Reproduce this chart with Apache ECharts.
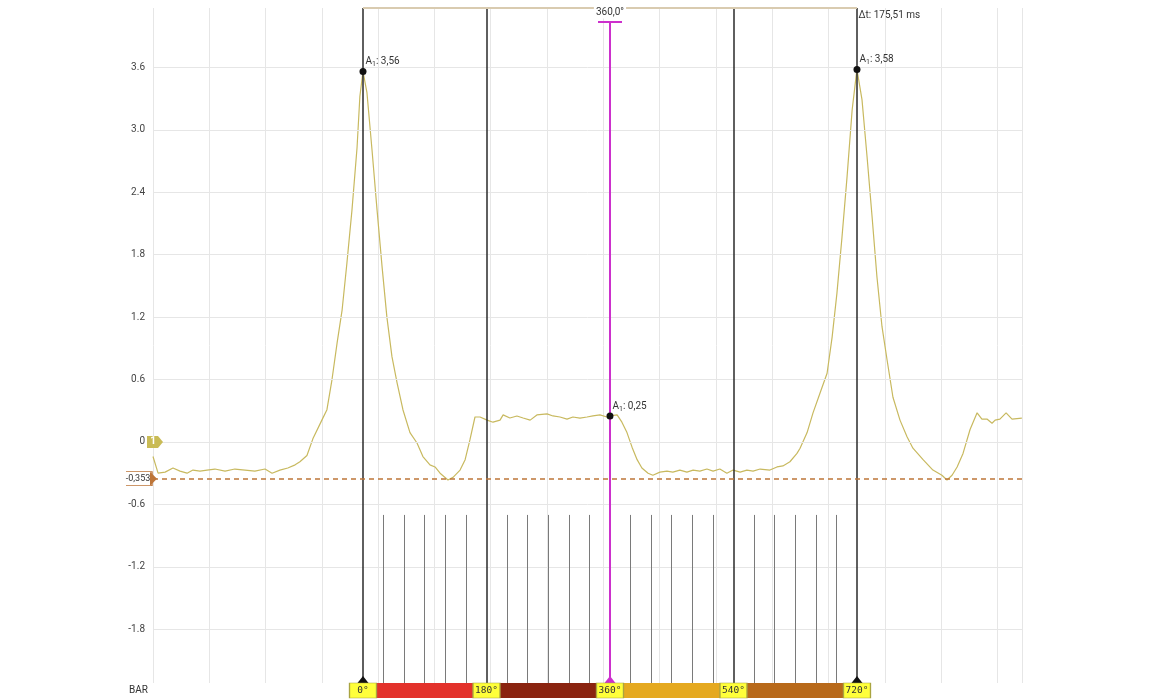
<!DOCTYPE html>
<html><head><meta charset="utf-8">
<script src="https://cdn.jsdelivr.net/npm/echarts@6/dist/echarts.min.js"></script>
<style>html,body{margin:0;padding:0;background:#fff}#c{width:1156px;height:700px}</style>
</head><body><div id="c"></div>
<script>
// ---- data (time in ms, signal value) ----
const sampleTimes = [0.0,1.8,4.3,7.1,9.6,12.1,14.2,16.7,19.2,22.0,25.6,29.1,32.7,36.2,39.8,42.3,45.1,47.9,50.5,52.2,54.7,56.8,60.0,61.8,63.6,65.4,67.2,68.9,70.7,72.5,73.5,74.6,76.0,77.8,79.6,81.4,83.1,84.9,86.7,88.8,91.3,93.8,95.9,98.4,100.2,102.0,104.8,106.6,109.1,110.9,112.6,114.4,116.2,118.7,120.8,123.3,124.4,126.8,129.3,131.5,134.0,136.4,140.0,142.1,144.6,147.1,149.2,151.7,154.2,156.3,158.8,161.3,162.4,164.9,166.6,168.4,170.2,172.0,173.7,175.9,177.6,180.1,182.6,184.7,187.2,189.7,191.9,194.3,196.8,199.0,201.4,203.9,206.1,208.6,211.0,213.2,215.7,219.2,221.7,223.8,226.3,228.8,229.9,232.4,234.5,237.0,239.5,241.3,243.0,244.8,246.6,248.4,250.1,251.9,253.7,255.5,257.2,259.0,260.8,262.9,265.4,267.9,270.0,273.6,277.1,280.3,282.1,283.9,285.7,287.8,290.3,292.8,294.5,296.3,298.1,299.2,300.9,303.1,305.2,308.7];
const sampleValues = [-0.14,-0.30,-0.29,-0.25,-0.28,-0.30,-0.27,-0.28,-0.27,-0.26,-0.28,-0.26,-0.27,-0.28,-0.26,-0.30,-0.27,-0.25,-0.22,-0.19,-0.13,0.03,0.21,0.31,0.60,0.95,1.27,1.72,2.23,2.83,3.32,3.56,3.36,2.81,2.23,1.68,1.20,0.82,0.57,0.31,0.09,-0.01,-0.14,-0.22,-0.24,-0.30,-0.365,-0.34,-0.27,-0.17,0.02,0.24,0.24,0.21,0.19,0.21,0.26,0.23,0.25,0.23,0.21,0.26,0.27,0.25,0.24,0.22,0.24,0.23,0.24,0.25,0.26,0.24,0.25,0.26,0.19,0.09,-0.05,-0.17,-0.25,-0.30,-0.32,-0.29,-0.28,-0.29,-0.27,-0.29,-0.27,-0.28,-0.26,-0.28,-0.26,-0.30,-0.27,-0.29,-0.27,-0.28,-0.26,-0.27,-0.24,-0.23,-0.19,-0.11,-0.06,0.09,0.28,0.47,0.66,1.01,1.43,1.97,2.55,3.19,3.58,3.29,2.74,2.16,1.59,1.11,0.79,0.43,0.21,0.05,-0.06,-0.17,-0.27,-0.32,-0.365,-0.32,-0.24,-0.11,0.12,0.28,0.22,0.22,0.18,0.21,0.22,0.28,0.22,0.23];
const yTickValues = [-1.8,-1.2,-0.6,0,0.6,1.2,1.8,2.4,3.0,3.6];
const cursorAngles = [0,180,360,540,720];
const cursorLabels = ['0°','180°','360°','540°','720°'];
const crankTickAngles = [30,60,90,120,150,210,240,270,300,330,390,420,450,480,510,570,600,630,660,690];
const segmentColors = ['#e3322b','#8a2410','#e5a920','#b8691a'];
const peakAngles = [0,360,720];
const peakValues = [3.56,0.25,3.58];
const zeroAngleMs = 74.61;
const cycleMs = 175.51;
const referenceLevel = -0.353;
const xMaxMs = 308.75;
const yMin = -2.316, yMax = 4.170;
const magentaTop = 4.036;
const crankTickTop = -0.701;

const angleToMs = a => zeroAngleMs + a / 720 * cycleMs;
const comma = (v, d) => v.toFixed(d).replace('.', ',');
const magenta = '#cc30cc';
const refColor = '#bd7538';
const solid = (color, width) => ({ color, width, type: 'solid' });

const waveData = sampleTimes.map((t, i) => [t, sampleValues[i]]);

const gridLineData = yTickValues.map(v => ({ yAxis: v, lineStyle: solid('#e6e6e6', 1) }));
const crankTickData = crankTickAngles.map(a => [
  { coord: [angleToMs(a), crankTickTop], lineStyle: solid('#7a7a7a', 1) }, { coord: [angleToMs(a), yMin] }
]);

const cursorLineData = cursorAngles.filter(a => a !== 360).map(a => ({
  xAxis: angleToMs(a), lineStyle: solid('#2a2a2a', 1.5)
}));
cursorLineData.push([
  { coord: [angleToMs(360), magentaTop], lineStyle: solid(magenta, 2) },
  { coord: [angleToMs(360), yMin] }
]);
cursorLineData.push([
  { coord: [angleToMs(360) - 4.26, magentaTop], lineStyle: solid(magenta, 2) },
  { coord: [angleToMs(360) + 4.26, magentaTop] }
]);
cursorLineData.push([
  { coord: [angleToMs(0), yMax], lineStyle: solid('#d9cbb0', 2) },
  { coord: [angleToMs(720), yMax] }
]);
cursorLineData.push({ yAxis: referenceLevel, lineStyle: { color: refColor, width: 1.5, type: [5, 4] } });

const richA = {
  a: { fontSize: 10, color: '#333' },
  s: { fontSize: 7, color: '#333', padding: [5, 0, 0, 0] }
};
const hidden = { color: 'rgba(0,0,0,0)' };
const markPoints = [];
peakAngles.forEach((a, i) => {
  markPoints.push({
    coord: [angleToMs(a), peakValues[i]], symbol: 'circle', symbolSize: 7,
    itemStyle: { color: '#111' },
    label: { show: true, position: [6, -12], align: 'left', verticalAlign: 'top',
      formatter: '{a|A}{s|1}{a|: ' + comma(peakValues[i], 2) + '}', rich: richA }
  });
});
markPoints.push({
  coord: [angleToMs(360), magentaTop], symbol: 'circle', symbolSize: 1, itemStyle: hidden,
  label: { show: true, position: 'top', distance: 3, formatter: comma(360, 1) + '°',
    fontSize: 10, color: '#333', backgroundColor: '#fff', padding: [1, 2] }
});
markPoints.push({
  coord: [angleToMs(720), yMax], symbol: 'circle', symbolSize: 1, itemStyle: hidden,
  label: { show: true, position: [2, 3], align: 'left', verticalAlign: 'top',
    formatter: 'Δt: ' + comma(cycleMs, 2) + ' ms', fontSize: 10, color: '#333' }
});
cursorAngles.filter(a => a % 360 === 0).forEach(a => {
  markPoints.push({
    coord: [angleToMs(a), yMin], symbol: 'triangle', symbolSize: [11, 7], symbolOffset: [0, -3.5],
    itemStyle: { color: a === 360 ? magenta : '#111' }, label: { show: false }
  });
});
markPoints.push({
  coord: [0, 0], symbol: 'path://M0,0 L11,0 L16,6 L11,12 L0,12 Z', symbolSize: [16, 12],
  symbolOffset: [2, 0], symbolKeepAspect: false, itemStyle: { color: '#c9bb55' },
  label: { show: true, position: 'inside', offset: [-2, 0], formatter: '1', color: '#fff', fontSize: 10, fontWeight: 'bold' }
});
markPoints.push({
  coord: [0, referenceLevel], symbol: 'path://M0,0 L26,0 L26,14 L0,14', symbolSize: [26, 14], symbolOffset: [-14, 0],
  symbolKeepAspect: false,
  itemStyle: { color: '#fff', borderColor: refColor, borderWidth: 1 },
  label: { show: true, position: 'inside', offset: [-1, 0], formatter: comma(referenceLevel, 3), color: '#333', fontSize: 9 }
});
markPoints.push({
  coord: [0, referenceLevel], symbol: 'path://M0,0 L7,7 L0,14 Z', symbolSize: [7, 14],
  symbolOffset: [0.5, 0], symbolKeepAspect: false, itemStyle: { color: refColor }, label: { show: false }
});

const bandAreas = segmentColors.map((c, i) => [
  { xAxis: angleToMs(i * 180), itemStyle: { color: c, opacity: 1 } },
  { xAxis: angleToMs((i + 1) * 180) }
]);

const chart = echarts.init(document.getElementById('c'), null, { renderer: 'canvas' });
chart.setOption({
  animation: false,
  backgroundColor: '#fff',
  textStyle: { fontFamily: 'Roboto, "Liberation Sans", sans-serif' },
  grid: [
    { left: 153, right: 134, top: 8, height: 675, containLabel: false },
    { left: 153, right: 134, top: 683, height: 15, containLabel: false }
  ],
  xAxis: [
    { type: 'value', gridIndex: 0, min: 0, max: xMaxMs, interval: 20,
      axisLabel: { show: false }, axisTick: { show: false },
      axisLine: { show: true, lineStyle: { color: '#dcdcdc' } },
      splitLine: { show: true, lineStyle: { color: '#e6e6e6', width: 1 } } },
    { type: 'value', gridIndex: 1, min: 0, max: xMaxMs, show: false }
  ],
  yAxis: [
    { type: 'value', gridIndex: 0, min: yMin, max: yMax,
      axisLine: { show: false },
      axisTick: { show: false, customValues: yTickValues },
      axisLabel: { customValues: yTickValues, fontSize: 10, color: '#444', margin: 8,
        formatter: v => (Math.abs(v) < 1e-9 ? '0' : v.toFixed(1)) },
      splitLine: { show: false } },
    { type: 'category', gridIndex: 1, data: ['BAR'],
      axisLine: { show: false }, axisTick: { show: false }, splitLine: { show: false },
      axisLabel: { fontSize: 10, color: '#333', margin: 5 } }
  ],
  series: [
    { type: 'line', name: 'grid', data: [], z: 1, silent: true,
      markLine: { silent: true, symbol: ['none', 'none'], label: { show: false }, animation: false,
        lineStyle: { type: 'solid' }, emphasis: { disabled: true },
        data: gridLineData.concat(crankTickData) } },
    { type: 'line', name: 'signal', data: waveData, z: 3, showSymbol: false, silent: true,
      lineStyle: { color: '#c8b95f', width: 1.2 }, itemStyle: { color: '#c8b95f' } },
    { type: 'line', name: 'cursors', data: [], z: 5, silent: true,
      markLine: { silent: true, symbol: ['none', 'none'], label: { show: false }, animation: false,
        lineStyle: { type: 'solid' }, emphasis: { disabled: true }, data: cursorLineData },
      markPoint: { silent: true, animation: false, data: markPoints } },
    { type: 'scatter', name: 'band', xAxisIndex: 1, yAxisIndex: 1, z: 6, silent: true,
      data: cursorAngles.map(a => [angleToMs(a), 'BAR']),
      symbol: 'rect', symbolSize: [27, 15],
      itemStyle: { color: '#ffff3a', borderColor: '#a9a440', borderWidth: 1, opacity: 1 },
      label: { show: true, position: 'inside', formatter: p => cursorLabels[p.dataIndex],
        fontFamily: '"DejaVu Sans Mono", monospace', fontSize: 9.5, color: '#333' },
      markArea: { silent: true, data: bandAreas } }
  ]
});
</script>
</body></html>
